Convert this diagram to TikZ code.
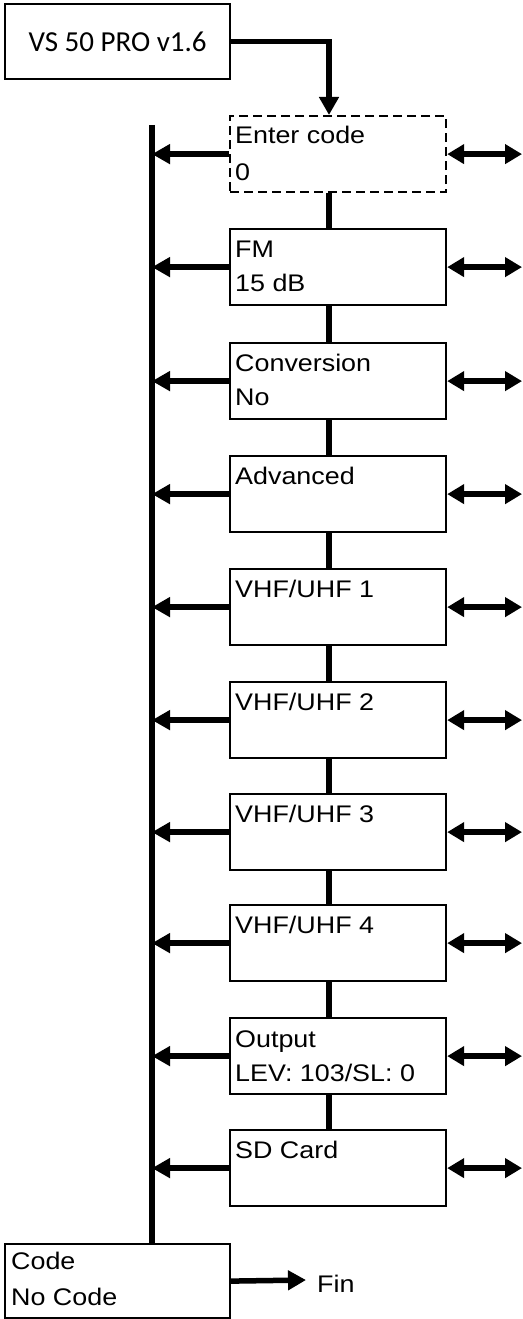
\documentclass[tikz,border=0pt]{standalone}
\usepackage{fontspec}
\setmainfont{Liberation Sans}[FakeStretch=1.12]
\newfontfamily\calibri{Carlito}
\usetikzlibrary{arrows.meta}
\begin{document}
\begin{tikzpicture}[x=1pt,y=-1pt,
  box/.style={draw, line width=2.2pt, minimum width=216pt, minimum height=76pt, anchor=north west, inner sep=0pt},
  txt/.style={anchor=base west, inner sep=0pt, font=\fontsize{24}{24}\selectfont},
  conn/.style={line width=5.5pt},
  arr/.style={line width=5.5pt, -{Triangle[length=18pt,width=19pt]}},
  darr/.style={line width=5.5pt, {Triangle[length=17pt,width=19pt]}-{Triangle[length=17pt,width=19pt]}}]
\useasboundingbox[fill=white] (0,0) rectangle (522,1319);
\coordinate (bus) at (152,125);
\coordinate (cx) at (329,0);
\coordinate (re) at (522,0);
\coordinate (fin) at (306,1280);

% top box
\node[draw, line width=2.2pt, minimum width=225pt, minimum height=75pt, anchor=north west, inner sep=0pt,
  font=\calibri\fontsize{29}{29}\selectfont] (top) at (4,3) {VS 50 PRO v1.6};

% menu boxes
\node[box, dash pattern=on 9pt off 5pt] (ent) at (229,115) {};
\node[box] (fm)   at (229,228) {};
\node[box] (conv) at (229,342) {};
\node[box] (adv)  at (229,455) {};
\node[box] (v1)   at (229,568) {};
\node[box] (v2)   at (229,681) {};
\node[box] (v3)   at (229,793) {};
\node[box] (v4)   at (229,904) {};
\node[box] (out)  at (229,1017) {};
\node[box] (sd)   at (229,1129) {};
\node[box, minimum width=225pt, minimum height=74pt] (code) at (4,1243) {};

% texts
\node[txt] (t1a) at (235,143) {Enter code};
\node[txt] (t1b) at (235,180) {0};
\node[txt] (t2a) at (235,257) {FM};
\node[txt] (t2b) at (235,291) {15 dB};
\node[txt] (t3a) at (235,371) {Conversion};
\node[txt] (t3b) at (235,405) {No};
\node[txt] (t4a) at (235,484) {Advanced};
\node[txt] (t5a) at (235,597) {VHF/UHF 1};
\node[txt] (t6a) at (235,710) {VHF/UHF 2};
\node[txt] (t7a) at (235,822) {VHF/UHF 3};
\node[txt] (t8a) at (235,933) {VHF/UHF 4};
\node[txt] (t9a) at (235,1047) {Output};
\node[txt] (t9b) at (235,1081) {LEV: 103/SL: 0};
\node[txt] (t10a) at (235,1158) {SD Card};
\node[txt] (tca) at (11,1269) {Code};
\node[txt] (tcb) at (11,1305) {No Code};
\node[txt] (fint) at (317,1292) {Fin};

% top arrow
\draw[arr] (top.east) -- (top.east -| cx) -- (ent.north -| cx);

% vertical chain
\foreach \a/\b in {ent/fm, fm/conv, conv/adv, adv/v1, v1/v2, v2/v3, v3/v4, v4/out, out/sd}
  \draw[conn] (\a.south -| cx) -- (\b.north -| cx);

% bus
\draw[conn] (bus) -- (code.north -| bus);

% left and right arrows
\foreach \b in {ent, fm, conv, adv, v1, v2, v3, v4, out, sd} {
  \draw[arr] (\b.west) -- (\b.west -| bus);
  \draw[darr] (\b.east) -- (\b.east -| re);
}

% fin arrow
\draw[arr] (code.east) -- (fin);
\end{tikzpicture}
\end{document}
